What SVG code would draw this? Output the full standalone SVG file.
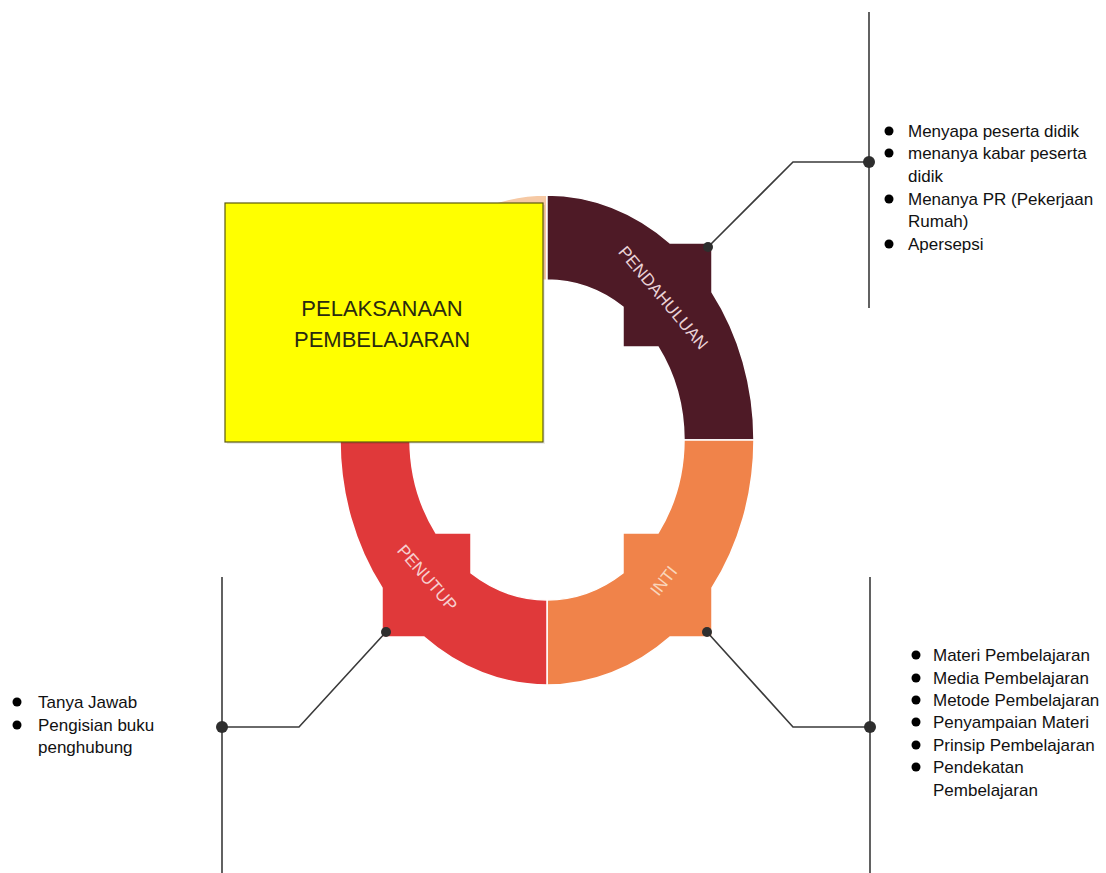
<svg xmlns="http://www.w3.org/2000/svg" width="1106" height="873" viewBox="0 0 1106 873">
<style>
.seg{stroke:#ffffff;stroke-width:1.5;stroke-linejoin:miter}
.lbl{font-family:"Liberation Sans",Arial,sans-serif;font-size:17px;text-anchor:middle;dominant-baseline:central}
.conn{fill:none;stroke:#3a3a3a;stroke-width:1.6}
.dot{fill:#2e2e2e}
.li{font-family:"Liberation Sans",Arial,sans-serif;font-size:17px;fill:#111}
.bul{fill:#000}
</style>
<rect width="1106" height="873" fill="#ffffff"/>
<g id="ring">
<g id="q-peach"><path class="seg" fill="#F6C9A4" d="M340,440 A207,245 0 0 1 382,292 L382,243 L424,243 A207,245 0 0 1 547,195 L547,280 A137,160 0 0 0 471,307 L471,347 L436,347 A137,160 0 0 0 410,440 Z"/></g>
<g id="pendahuluan"><path class="seg" fill="#4E1A26" d="M547,195 A207,245 0 0 1 670,243 L712,243 L712,292 A207,245 0 0 1 754,440 L684,440 A137,160 0 0 0 658,347 L623,347 L623,307 A137,160 0 0 0 547,280 Z"/>
<text class="lbl" fill="#EAD3D7" transform="translate(663,298) rotate(50)">PENDAHULUAN</text></g>
<g id="inti"><path class="seg" fill="#F0834A" d="M754,440 A207,245 0 0 1 712,588 L712,637 L670,637 A207,245 0 0 1 547,685 L547,600 A137,160 0 0 0 623,573 L623,533 L658,533 A137,160 0 0 0 684,440 Z"/>
<text class="lbl" fill="#F9D6BC" transform="translate(664,581) rotate(-52)">INTI</text></g>
<g id="penutup"><path class="seg" fill="#E0393A" d="M547,685 A207,245 0 0 1 424,637 L382,637 L382,588 A207,245 0 0 1 340,440 L410,440 A137,160 0 0 0 436,533 L471,533 L471,573 A137,160 0 0 0 547,600 Z"/>
<text class="lbl" fill="#F7CFCF" transform="translate(427,578) rotate(49)">PENUTUP</text></g>
</g>
<g id="title">
<rect x="227" y="205" width="318" height="239" fill="#000" opacity="0.08"/>
<rect x="225" y="203" width="318" height="239" fill="#FFFF00" stroke="#5C5A10" stroke-width="1.2"/>
<text x="382" y="316" font-family="Liberation Sans, Arial, sans-serif" font-size="22" fill="#2a2a10" text-anchor="middle">PELAKSANAAN</text>
<text x="382" y="347" font-family="Liberation Sans, Arial, sans-serif" font-size="22" fill="#2a2a10" text-anchor="middle">PEMBELAJARAN</text>
</g>
<g id="connectors">
<line class="conn" x1="869" y1="12" x2="869" y2="308"/>
<polyline class="conn" points="708,247 793,162 869,162"/>
<line class="conn" x1="870" y1="577" x2="870" y2="873"/>
<polyline class="conn" points="707,632 793,727 870,727"/>
<line class="conn" x1="222" y1="577" x2="222" y2="873"/>
<polyline class="conn" points="386,632 299,727 222,727"/>
<circle class="dot" cx="708" cy="247" r="5"/>
<circle class="dot" cx="869" cy="162" r="6"/>
<circle class="dot" cx="707" cy="632" r="5"/>
<circle class="dot" cx="870" cy="727" r="6"/>
<circle class="dot" cx="386" cy="632" r="5"/>
<circle class="dot" cx="222" cy="727" r="6"/>
</g>
<g id="list-pendahuluan">
<circle class="bul" cx="889" cy="131" r="4.5"/>
<circle class="bul" cx="889" cy="153" r="4.5"/>
<circle class="bul" cx="889" cy="199" r="4.5"/>
<circle class="bul" cx="889" cy="244" r="4.5"/>
<text class="li" x="908" y="137">Menyapa peserta didik</text>
<text class="li" x="908" y="159">menanya kabar peserta</text>
<text class="li" x="908" y="182">didik</text>
<text class="li" x="908" y="205">Menanya PR (Pekerjaan</text>
<text class="li" x="908" y="227">Rumah)</text>
<text class="li" x="908" y="250">Apersepsi</text>
</g>
<g id="list-inti">
<circle class="bul" cx="916" cy="655" r="4.5"/>
<circle class="bul" cx="916" cy="678" r="4.5"/>
<circle class="bul" cx="916" cy="700" r="4.5"/>
<circle class="bul" cx="916" cy="722" r="4.5"/>
<circle class="bul" cx="916" cy="745" r="4.5"/>
<circle class="bul" cx="916" cy="767" r="4.5"/>
<text class="li" x="933" y="661">Materi Pembelajaran</text>
<text class="li" x="933" y="684">Media Pembelajaran</text>
<text class="li" x="933" y="706">Metode Pembelajaran</text>
<text class="li" x="933" y="728">Penyampaian Materi</text>
<text class="li" x="933" y="751">Prinsip Pembelajaran</text>
<text class="li" x="933" y="773">Pendekatan</text>
<text class="li" x="933" y="796">Pembelajaran</text>
</g>
<g id="list-penutup">
<circle class="bul" cx="17" cy="702" r="4.5"/>
<circle class="bul" cx="17" cy="725" r="4.5"/>
<text class="li" x="38" y="708">Tanya Jawab</text>
<text class="li" x="38" y="731">Pengisian buku</text>
<text class="li" x="38" y="753">penghubung</text>
</g>
</svg>
